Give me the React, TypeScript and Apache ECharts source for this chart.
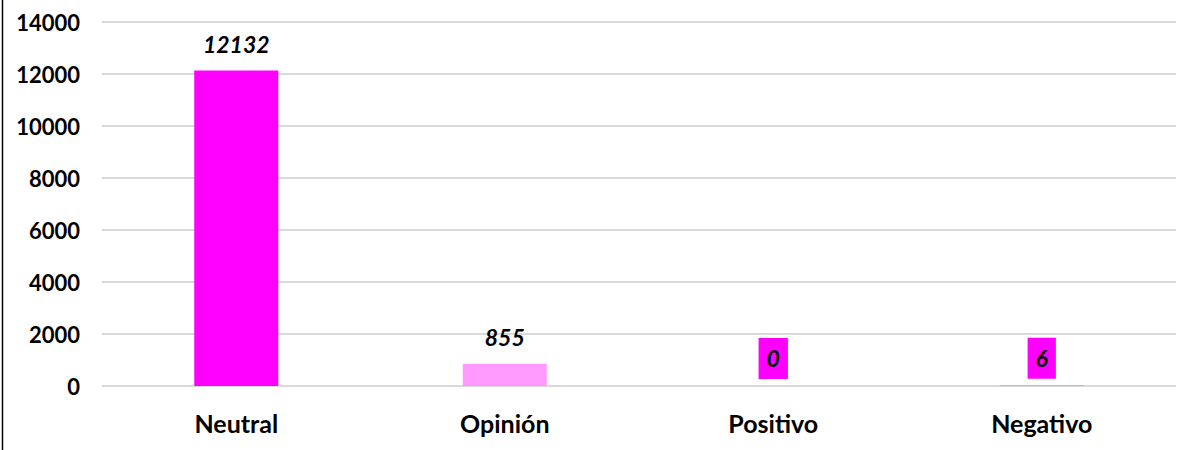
import React, { useEffect, useRef } from "react";
import * as echarts from "echarts";

const categories = ["Neutral", "Opinión", "Positivo", "Negativo"];
const values = [12132, 855, 0, 6];
const barColors = ["#FF00FF", "#FF99FF", "#FF00FF", "#FF00FF"];
const boxedLabel = [false, false, true, true];
const yTicks = { min: 0, max: 14000, interval: 2000 };

export default function App() {
  const ref = useRef<HTMLDivElement>(null);
  useEffect(() => {
    document.body.style.margin = "0";
    const chart = echarts.init(ref.current!, null, { renderer: "svg" });
    const font = "Lato, 'Open Sans', sans-serif";
    chart.setOption({
      animation: false,
      backgroundColor: "#ffffff",
      grid: { left: 102, right: 10, top: 22, bottom: 64, containLabel: false },
      xAxis: {
        type: "category",
        data: categories,
        axisLine: { show: false },
        axisTick: { show: false },
        axisLabel: {
          color: "#000",
          fontWeight: "bold",
          fontSize: 25,
          fontFamily: font,
          margin: 24,
        },
      },
      yAxis: {
        type: "value",
        min: yTicks.min,
        max: yTicks.max,
        interval: yTicks.interval,
        axisLine: { show: false },
        axisTick: { show: false },
        splitLine: { lineStyle: { color: "#D9D9D9", width: 2 } },
        axisLabel: {
          color: "#000",
          fontWeight: "bold",
          fontSize: 22,
          fontFamily: font,
          margin: 22,
          formatter: (v: number) => String(v),
        },
      },
      series: [
        {
          type: "bar",
          barWidth: 84,
          data: values.map((v, i) => ({
            value: v,
            itemStyle: { color: barColors[i] },
            label: boxedLabel[i]
              ? {
                  show: true,
                  position: "top",
                  distance: 7,
                  backgroundColor: "#FF00FF",
                  padding: [9, 8, 10, 8],
                  lineHeight: 22,
                }
              : { show: true, position: "top", distance: 15 },
          })),
          label: {
            color: "#000",
            fontStyle: "italic",
            fontWeight: "bold",
            fontSize: 23,
            fontFamily: font,
          },
        },
      ],
      graphic: [
        {
          type: "line",
          shape: { x1: 2.5, y1: 0, x2: 2.5, y2: 450 },
          style: { stroke: "#000", lineWidth: 1.5 },
        },
      ],
    });
    return () => chart.dispose();
  }, []);
  return <div ref={ref} style={{ width: 1186, height: 450 }} />;
}
